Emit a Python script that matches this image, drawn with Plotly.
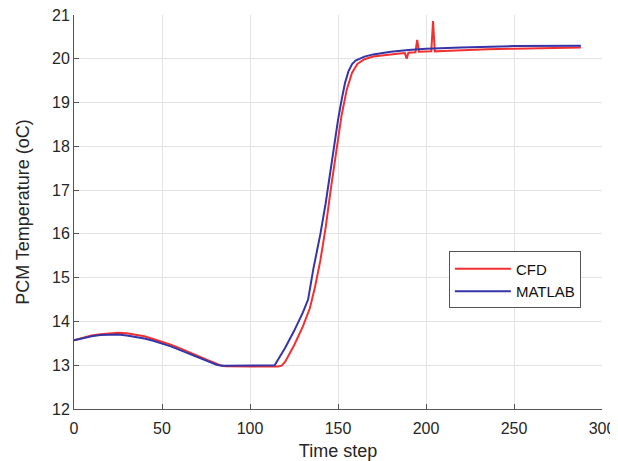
import plotly.graph_objects as go

# CFD (red) series
cfd_x = [0, 5, 10, 15, 20, 25, 30, 35, 40, 45, 50, 55, 60, 65, 70, 75, 80, 83, 86, 90, 100, 110, 116, 118, 120,
         125, 130, 134, 137, 140, 143, 146, 149, 152, 155, 158, 161, 165, 170, 175, 180, 185, 188, 189, 190,
         194, 195, 196, 200, 203, 204, 205, 210, 220, 235, 250, 270, 288]
cfd_y = [13.57, 13.63, 13.68, 13.71, 13.73, 13.74, 13.73, 13.70, 13.66, 13.60, 13.54, 13.47, 13.39, 13.31, 13.22,
         13.13, 13.04, 13.00, 12.975, 12.97, 12.97, 12.97, 12.97, 12.99, 13.08,
         13.45, 13.88, 14.30, 14.80, 15.40, 16.15, 17.05, 17.90, 18.70, 19.30, 19.68, 19.88, 19.99, 20.05, 20.08,
         20.10, 20.12, 20.13, 20.00, 20.14,
         20.15, 20.43, 20.16, 20.16, 20.17, 20.86, 20.17, 20.18, 20.20, 20.22, 20.23, 20.25, 20.26]

# MATLAB (blue) series
mat_x = [0, 5, 10, 15, 20, 25, 30, 35, 40, 45, 50, 55, 60, 65, 70, 75, 78, 81, 84, 90, 100, 110, 114,
         120, 125, 130, 133, 136, 138, 140, 143, 145, 147, 150, 152, 154, 156, 158, 160, 165, 170, 180, 190, 200,
         220, 250, 288]
mat_y = [13.57, 13.62, 13.66, 13.69, 13.70, 13.70, 13.68, 13.65, 13.61, 13.56, 13.50, 13.43, 13.35, 13.27, 13.19,
         13.10, 13.05, 13.01, 12.99, 12.99, 12.99, 12.99, 13.00,
         13.40, 13.78, 14.20, 14.50, 15.20, 15.60, 16.00, 16.70, 17.25, 17.85, 18.60, 19.05, 19.45, 19.72, 19.88,
         19.96, 20.05, 20.10, 20.16, 20.20, 20.23, 20.26, 20.29, 20.30]

x_ticks = [0, 50, 100, 150, 200, 250, 300]
y_ticks = [12, 13, 14, 15, 16, 17, 18, 19, 20, 21]

FONT = "Liberation Sans, Arial, sans-serif"

fig = go.Figure()
fig.add_trace(go.Scatter(x=cfd_x, y=cfd_y, mode="lines", name="CFD",
                         line=dict(color="#f23030", width=2)))
fig.add_trace(go.Scatter(x=mat_x, y=mat_y, mode="lines", name="MATLAB",
                         line=dict(color="#3535a8", width=2)))

axis_common = dict(
    showgrid=True, gridcolor="#e4e4e4", gridwidth=1,
    showline=True, linecolor="#555555", linewidth=1,
    ticks="inside", ticklen=5, tickcolor="#555555",
    zeroline=False, mirror=False, automargin=False,
    ticklabeloverflow="allow",
    tickfont=dict(family=FONT, size=16, color="#262626"),
)

fig.update_xaxes(range=[0, 300], tickvals=x_ticks, ticklabelstandoff=5,
                 title=dict(text="Time step", font=dict(family=FONT, size=18, color="#262626"), standoff=9),
                 **axis_common)
fig.update_yaxes(range=[12, 21], tickvals=y_ticks,
                 title=dict(text="PCM Temperature (oC)", font=dict(family=FONT, size=18, color="#262626"),
                            standoff=17),
                 **axis_common)

fig.update_layout(
    width=610, height=453,
    margin=dict(l=66, r=16, t=7, b=52),
    paper_bgcolor="white", plot_bgcolor="white",
    showlegend=True,
    legend=dict(x=0.71, y=0.40, xanchor="left", yanchor="top",
                bgcolor="white", bordercolor="#555555", borderwidth=1,
                font=dict(family=FONT, size=15, color="#111111"),
                tracegroupgap=0, itemwidth=56),
)

fig.write_html("out.html")
